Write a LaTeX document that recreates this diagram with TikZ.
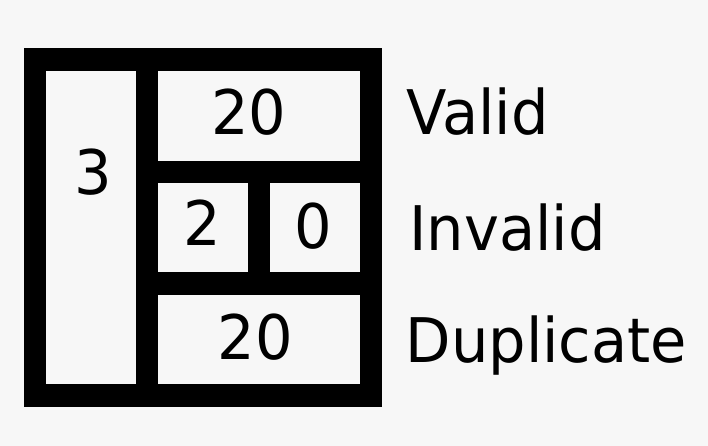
\documentclass[tikz,border=0pt]{standalone}
\usepackage{fontspec}
\setmainfont[FakeStretch=0.96]{DejaVu Sans}
\definecolor{bg}{HTML}{F7F7F7}
\begin{document}
\begin{tikzpicture}[x=1pt,y=-1pt,
  cell/.style={fill=bg,draw=none},
  num/.style={anchor=base,inner sep=0pt,font=\fontsize{61.5}{70}\selectfont},
  lab/.style={anchor=base west,inner sep=0pt,font=\fontsize{61.5}{70}\selectfont}]
\fill[bg] (0,0) rectangle (708,446);
\useasboundingbox (0,0) rectangle (708,446);
\fill[black] (23.5,48.3) rectangle (382,406.7);
\fill[cell] (45.7,71) rectangle (135.7,384.3);
\fill[cell] (158,71) rectangle (360,160.7);
\fill[cell] (158,183.3) rectangle (247.7,272.3);
\fill[cell] (270,183.3) rectangle (360,272.3);
\fill[cell] (158,295) rectangle (360,384.3);
\node[num] (n3) at (93,194.5) {3};
\node[num] (nvalid) at (249,135) {20};
\node[num] (ninv1) at (202,245) {2};
\node[num] (ninv2) at (313,248) {0};
\node[num] (ndup) at (255.3,359) {20};
\node[lab] (lvalid) at (406,134.5) {Valid};
\node[lab] (linvalid) at (409,250) {Invalid};
\node[lab] (ldup) at (405.5,362.7) {Duplicate};
\end{tikzpicture}
\end{document}
